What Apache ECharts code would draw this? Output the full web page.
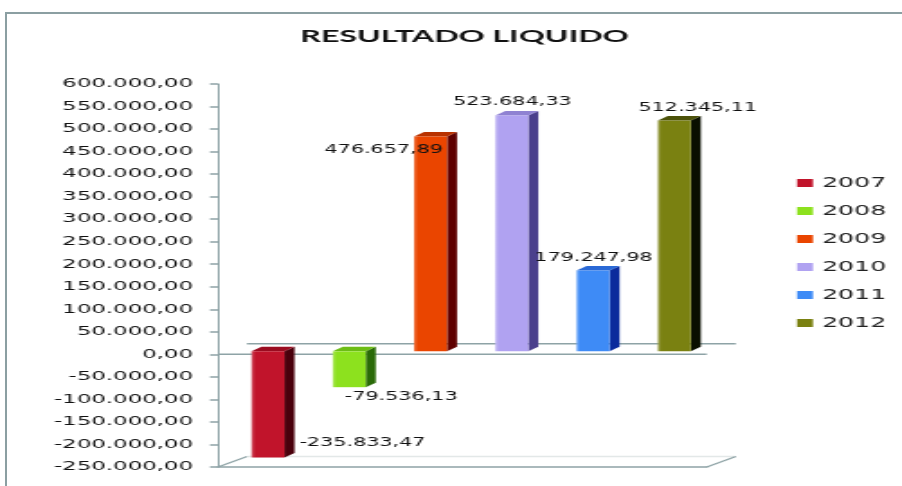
<!DOCTYPE html>
<html>
<head>
<meta charset="utf-8">
<script src="https://cdn.jsdelivr.net/npm/echarts@6/dist/echarts.min.js"></script>
<style>
  html, body { margin: 0; padding: 0; background: #fff; overflow: hidden; width: 902px; height: 486px; }
  #frame { position: absolute; left: 5px; top: 12px; width: 897px; height: 474px;
           border-left: 2px solid #8b9fa2; border-top: 2px solid #8b9fa2; box-sizing: border-box; }
  #chart { position: absolute; left: 0; top: 0; height: 486px; transform-origin: 0 0; }
</style>
</head>
<body>
<div id="frame"></div>
<div id="chart"></div>
<script>
// ---- data ----
const years = ['2007', '2008', '2009', '2010', '2011', '2012'];
const resultado = [-235833.47, -79536.13, 476657.89, 523684.33, 179247.98, 512345.11];
const yMin = -250000;
const yMax = 600000;
const yStep = 50000;

// ---- styling ----
// The chart is laid out narrow and widened horizontally, giving the wide lettering.
const STRETCH = 1.8;
const W = 902 / STRETCH;
const u = px => px / STRETCH;           // horizontal page pixels -> chart pixels

const faceColors = ['#C1142B', '#8DE11E', '#EA4500', '#B0A2F1', '#3E8BF6', '#7A8111'];
const sideColors = ['#4A000C', '#2A6A08', '#5E0000', '#4A3F8C', '#0B2B9C', '#0A0F00'];
const topColors  = ['#9A0C20', '#6CBD14', '#B83200', '#8F82D2', '#2A69D6', '#4C520A'];

// label anchor relative to the bar's front face (left edge / free end), in page pixels
const labelPlacement = [
  { dx: 48, dy: -15, align: 'left' },
  { dx: 12, dy: 10, align: 'left' },
  { dx: 29, dy: 13, align: 'right' },
  { dx: 17, dy: -13, align: 'center' },
  { dx: 17, dy: -13, align: 'center' },
  { dx: 40, dy: -12, align: 'center' }
];

const AXIS_COLOR = '#8EA3A6';
const TEXT_COLOR = '#111';
const FONT = '"DejaVu Sans", Verdana, sans-serif';
const BAR_W = u(33);
const BAR_DX = u(10), BAR_DY = 4.5, BAR_LIFT = -3;
const PLANE_DX = u(29), PLANE_DY = 10.5;
const X_MIN = -0.615, X_MAX = 5.40;

function fmt(v) {
  const neg = v < 0;
  const parts = Math.abs(v).toFixed(2).split('.');
  const intPart = parts[0].replace(/\B(?=(\d{3})+(?!\d))/g, '.');
  return (neg ? '-' : '') + intPart + ',' + parts[1];
}

const el = document.getElementById('chart');
el.style.width = W + 'px';
el.style.transform = 'scaleX(' + STRETCH + ')';
const chart = echarts.init(el, null, { renderer: 'canvas' });

// floor / zero-plane outline drawn in depth behind the bars
const floorSeries = {
  type: 'custom',
  name: 'floor',
  silent: true,
  z: 1,
  data: [[0, 0]],
  renderItem(params, api) {
    const z0 = api.coord([X_MIN, 0]);
    const z1 = api.coord([X_MAX, 0]);
    const b0 = api.coord([X_MIN, yMin]);
    const b1 = api.coord([X_MAX, yMin]);
    const line = (p, q, color, w) => ({
      type: 'line',
      shape: { x1: p[0], y1: p[1], x2: q[0], y2: q[1] },
      style: { stroke: color, lineWidth: w }
    });
    const back = p => [p[0] + PLANE_DX, p[1] - PLANE_DY];
    return {
      type: 'group',
      children: [
        line(back(b0), back(b1), '#e3e8e8', 1.5),
        line(b0, back(b0), AXIS_COLOR, 1.2),
        line(b1, back(b1), AXIS_COLOR, 1.2),
        line(back(z0), back(z1), AXIS_COLOR, 1.5),
        line(z0, z1, AXIS_COLOR, 1.5)
      ]
    };
  }
};

const barSeries = years.map((yr, i) => ({
  type: 'custom',
  name: yr,
  z: 3,
  itemStyle: { color: faceColors[i] },
  data: [[i, resultado[i]]],
  encode: { x: 0, y: 1 },
  renderItem(params, api) {
    const x = api.value(0), v = api.value(1);
    const base = api.coord([x, 0]);
    const end = api.coord([x, v]);
    const left = base[0] - BAR_W / 2, right = base[0] + BAR_W / 2;
    const y0 = base[1] + BAR_LIFT, y1 = end[1] + BAR_LIFT;
    const yTop = Math.min(y0, y1), yBot = Math.max(y0, y1);
    const lp = labelPlacement[i];
    return {
      type: 'group',
      children: [
        { type: 'polygon',
          shape: { points: [[right, yTop], [right + BAR_DX, yTop - BAR_DY], [right + BAR_DX, yBot - BAR_DY], [right, yBot]] },
          style: { fill: sideColors[i] } },
        { type: 'polygon',
          shape: { points: [[left, yTop], [left + BAR_DX, yTop - BAR_DY], [right + BAR_DX, yTop - BAR_DY], [right, yTop]] },
          style: { fill: topColors[i] } },
        { type: 'rect',
          shape: { x: left, y: yTop, width: BAR_W, height: yBot - yTop },
          style: { fill: new echarts.graphic.LinearGradient(0, 0, 1, 0, [
            { offset: 0, color: echarts.color.lift(faceColors[i], 0.25) },
            { offset: 0.12, color: faceColors[i] },
            { offset: 1, color: faceColors[i] }
          ]) } },
        { type: 'text',
          z2: 10,
          style: {
            x: left + u(lp.dx), y: y1 + lp.dy,
            text: fmt(v), align: lp.align, verticalAlign: 'middle',
            fill: TEXT_COLOR, fontSize: 11.5, fontFamily: FONT
          } }
      ]
    };
  }
}));

chart.setOption({
  animation: false,
  backgroundColor: 'transparent',
  title: {
    text: 'RESULTADO LIQUIDO',
    left: u(300), top: 27, padding: 0,
    textStyle: { fontSize: 17.9, fontWeight: 'bold', color: '#111',
                 fontFamily: 'Lato, "Liberation Sans", Arial, sans-serif' }
  },
  legend: {
    data: years,
    orient: 'vertical',
    left: u(797), top: 176,
    padding: 0,
    icon: 'rect',
    itemWidth: u(16), itemHeight: 8, itemGap: 14,
    selectedMode: false,
    textStyle: { fontSize: 14, lineHeight: 14, color: '#222', fontFamily: FONT }
  },
  grid: { left: u(218), right: u(902 - 707), top: 84, bottom: 19, containLabel: false },
  xAxis: {
    type: 'value', min: X_MIN, max: X_MAX,
    axisLine: { show: true, onZero: false, lineStyle: { color: AXIS_COLOR, width: 1.5 } },
    axisTick: { show: false }, axisLabel: { show: false }, splitLine: { show: false }
  },
  yAxis: {
    type: 'value', min: yMin, max: yMax, interval: yStep,
    axisLine: { show: true, onZero: false, lineStyle: { color: AXIS_COLOR, width: 1 } },
    axisTick: { show: true, length: u(8), lineStyle: { color: AXIS_COLOR, width: 1.5 } },
    axisLabel: { formatter: v => fmt(v), fontSize: 12.7, color: TEXT_COLOR, fontFamily: FONT, margin: u(25) },
    splitLine: { show: false }
  },
  series: [floorSeries].concat(barSeries)
});
</script>
</body>
</html>
